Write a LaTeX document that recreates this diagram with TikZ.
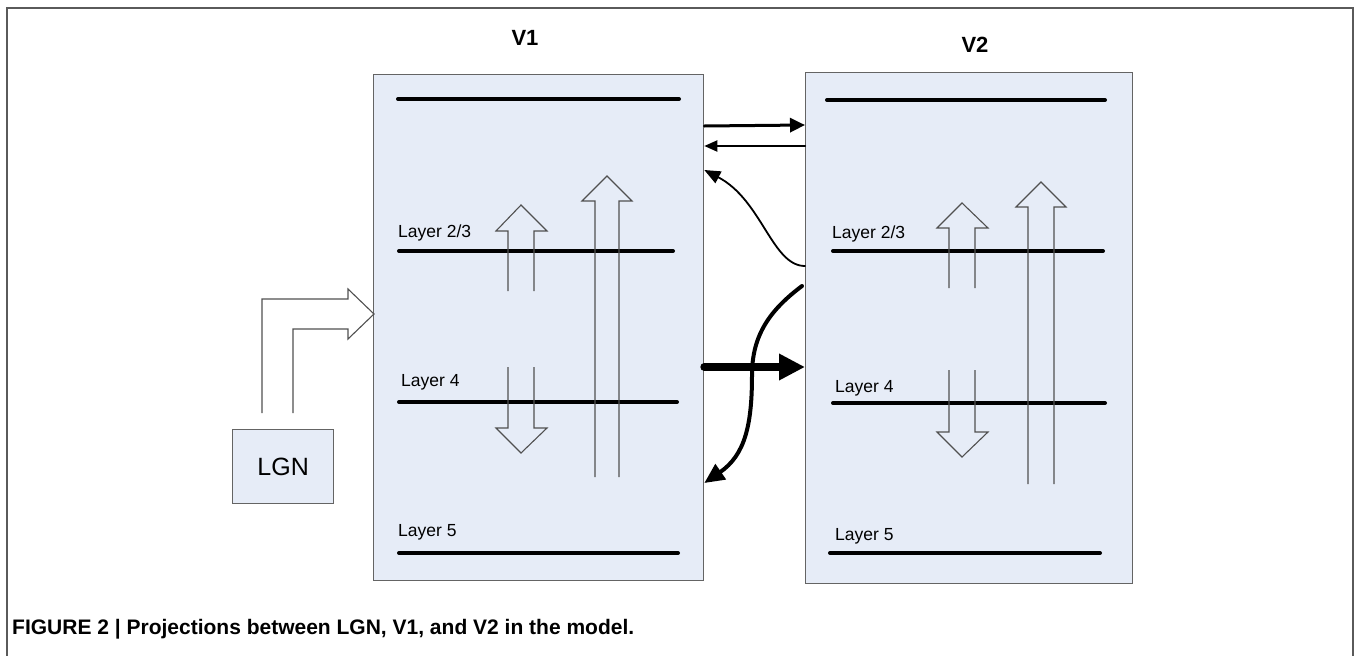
\documentclass[tikz,border=0pt]{standalone}
\usepackage{fontspec}
\setmainfont{Liberation Sans}
\usetikzlibrary{arrows.meta}
\definecolor{boxfill}{RGB}{230,236,247}
\definecolor{boxline}{RGB}{100,100,100}
\definecolor{hollow}{RGB}{80,80,80}
\definecolor{framec}{RGB}{90,90,90}
\tikzset{
  cortex/.style={draw=boxline, line width=1.3pt, fill=boxfill, inner sep=0pt, anchor=north west},
  layerline/.style={line width=4pt, line cap=round},
  layerlabel/.style={anchor=west, inner sep=0pt, font=\fontsize{17.5}{20}\selectfont},
  title/.style={inner sep=0pt, font=\fontsize{22}{26}\selectfont\bfseries},
  hollowarrow/.style={draw=hollow, line width=1.1pt, line join=miter},
  conn/.style={line width=#1, line cap=round},
}
\begin{document}
\begin{tikzpicture}[x=1pt, y=-1pt]
\useasboundingbox (0,0) rectangle (1355,656);
% frame
\draw[framec, line width=1.2pt] (7,660) -- (7,8) -- (1353,8) -- (1353,660);

% boxes
\node[cortex, minimum width=330pt, minimum height=506pt] (v1) at (373,74) {};
\node[cortex, minimum width=327pt, minimum height=511pt] (v2) at (805,72) {};
\node[cortex, minimum width=101pt, minimum height=74pt] (lgn) at (232,429) {};
\node[inner sep=0pt, font=\fontsize{25}{28}\selectfont] (lgnlabel) at (lgn.center) {LGN};

% titles
\node[title] (t1) at (525,38) {V1};
\node[title] (t2) at (975,45) {V2};

% V1 layers
\draw[layerline] (398,99) -- (679,99);
\draw[layerline] (399,251) -- (673,251);
\draw[layerline] (399,402) -- (677,402);
\draw[layerline] (399,553) -- (678,553);
\node[layerlabel] (l1a) at (398,233) {Layer 2/3};
\node[layerlabel] (l1b) at (401,382) {Layer 4};
\node[layerlabel] (l1c) at (398,532) {Layer 5};

% V2 layers
\draw[layerline] (827,100) -- (1105,100);
\draw[layerline] (833,251) -- (1103,251);
\draw[layerline] (833,403) -- (1105,403);
\draw[layerline] (830,553) -- (1100,553);
\node[layerlabel] (l2a) at (832,234) {Layer 2/3};
\node[layerlabel] (l2b) at (835,388) {Layer 4};
\node[layerlabel] (l2c) at (835,536) {Layer 5};

% hollow arrows V1
\draw[hollowarrow] (508,291) -- (508,231) -- (496,231) -- (521,205) -- (547,231) -- (534,231) -- (534,291);
\draw[hollowarrow] (508,367) -- (508,428) -- (496,428) -- (521,453) -- (547,428) -- (534,428) -- (534,367);
\draw[hollowarrow] (595,477) -- (595,201) -- (582,201) -- (607,176) -- (632,201) -- (619,201) -- (619,477);
% hollow arrows V2
\draw[hollowarrow] (949,288) -- (949,228) -- (937,228) -- (962,203) -- (988,228) -- (975,228) -- (975,288);
\draw[hollowarrow] (949,370) -- (949,432) -- (937,432) -- (962,457) -- (988,432) -- (975,432) -- (975,370);
\draw[hollowarrow] (1028,484) -- (1028,207) -- (1016,207) -- (1041,182) -- (1066,207) -- (1054,207) -- (1054,484);

% LGN hollow arrow
\draw[hollowarrow] (262,413) -- (262,299) -- (348,299) -- (348,289) -- (374,314) -- (348,339) -- (348,329) -- (293,329) -- (293,413);

% connectors between V1 and V2
\coordinate (a1s) at (v1.east |- 0,126);
\coordinate (a1e) at (v2.west |- 0,125);
\draw[conn=3pt, -{Triangle[length=15pt, width=14pt]}] (a1s) -- (a1e);

\coordinate (a2s) at (v2.west |- 0,146);
\coordinate (a2e) at (v1.east |- 0,146);
\draw[conn=2pt, -{Triangle[length=13pt, width=11pt]}] (a2s) -- (a2e);

\coordinate (a3s) at (v2.west |- 0,266);
\coordinate (a3e) at (v1.east |- 0,170);
\draw[conn=1.8pt, -{Triangle[length=16pt, width=13pt]}] (a3s) .. controls (772,266) and (762,200) .. (a3e);

\coordinate (a4s) at (v1.east |- 0,367);
\coordinate (a4e) at (v2.west |- 0,367);
\draw[conn=8pt, -{Triangle[length=26pt, width=25pt]}] (a4s) -- (a4e);

\coordinate (a5s) at (802,286);
\coordinate (a5m) at (752,375);
\coordinate (a5e) at (v1.east |- 0,483);
\draw[conn=4pt, -{Triangle[length=20pt, width=18pt]}] (a5s) .. controls (770,310) and (752,335) .. (a5m) .. controls (752,425) and (745,455) .. (a5e);

% caption
\node[anchor=west, inner sep=0pt, font=\fontsize{21}{25}\selectfont\bfseries] (cap) at (12,629) {FIGURE 2 | Projections between LGN, V1, and V2 in the model.};
\end{tikzpicture}
\end{document}
